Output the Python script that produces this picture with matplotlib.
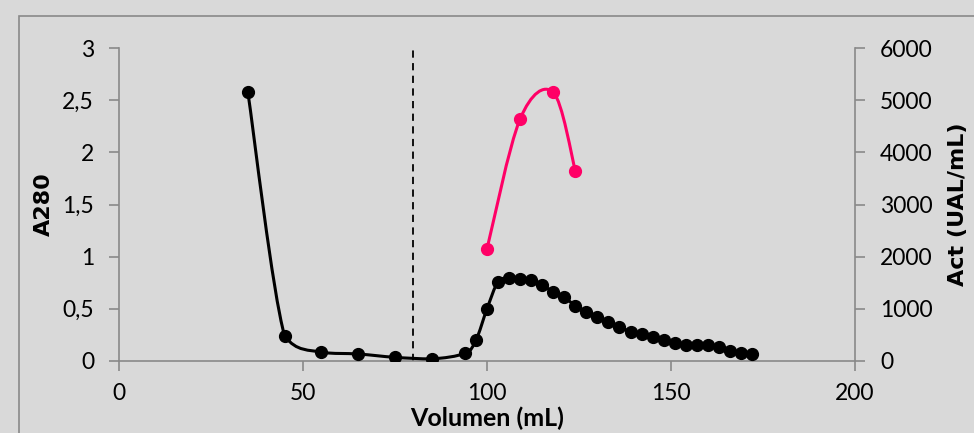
import numpy as np
import matplotlib.pyplot as plt
from matplotlib.path import Path
from matplotlib.patches import PathPatch, Rectangle
from matplotlib.ticker import FuncFormatter

# A280 elution profile
vol_a280 = [35, 45, 55, 65, 75, 85, 94, 97, 100, 103, 106, 109, 112, 115, 118,
            121, 124, 127, 130, 133, 136, 139, 142, 145, 148, 151, 154, 157,
            160, 163, 166, 169, 172]
a280 = [2.58, 0.24, 0.083, 0.067, 0.035, 0.02, 0.074, 0.20, 0.50, 0.76, 0.80,
        0.79, 0.78, 0.73, 0.66, 0.61, 0.53, 0.47, 0.42, 0.37, 0.33, 0.28, 0.26,
        0.23, 0.20, 0.17, 0.15, 0.15, 0.15, 0.13, 0.10, 0.08, 0.07]

# Activity (UAL/mL)
vol_act = [100, 109, 118, 124]
act = [2150, 4640, 5150, 3650]

BG = "#d9d9d9"
GRAY = "#898989"
PINK = "#ff0066"


def smooth_path(x, y, clamp=False):
    # Excel-style smoothed line: cubic Bezier through the points
    pts = np.column_stack([x, y]).astype(float)
    verts = [pts[0]]
    codes = [Path.MOVETO]
    n = len(pts)
    for i in range(n - 1):
        p0 = pts[i - 1] if i > 0 else pts[i]
        p1 = pts[i]
        p2 = pts[i + 1]
        p3 = pts[i + 2] if i + 2 < n else pts[i + 1]
        c1 = p1 + (p2 - p0) / 6.0
        c2 = p2 - (p3 - p1) / 6.0
        if clamp:
            lo, hi = min(p1[1], p2[1]), max(p1[1], p2[1])
            c1[1] = np.clip(c1[1], lo, hi)
            c2[1] = np.clip(c2[1], lo, hi)
        verts += [c1, c2, p2]
        codes += [Path.CURVE4] * 3
    return Path(verts, codes)


fig = plt.figure(figsize=(9.74, 4.33), dpi=100, facecolor=BG)
ax = fig.add_axes([0.1222, 0.1663, 0.7556, 0.7228])
ax.set_facecolor(BG)
ax2 = ax.twinx()

# outer chart frame
fig.patches.append(Rectangle((19 / 974, -0.1), 1.2, (433 - 16) / 433 + 0.1,
                             transform=fig.transFigure, fill=False,
                             edgecolor=GRAY, linewidth=1.2))

ax.add_patch(PathPatch(smooth_path(vol_a280, a280, clamp=True), fill=False,
                       edgecolor="black", linewidth=2.2, zorder=3))
ax.plot(vol_a280, a280, linestyle="none", marker="o", markersize=8.5,
        color="black", zorder=4)
ax.plot([80, 80], [0, 3], linestyle=(0, (4, 3)), color="black",
        linewidth=1.3, zorder=2)

ax2.add_patch(PathPatch(smooth_path(vol_act, act), fill=False,
                        edgecolor=PINK, linewidth=2.2, zorder=3))
ax2.plot(vol_act, act, linestyle="none", marker="o", markersize=8.5,
         color=PINK, zorder=4)

ax.set_xlim(0, 200)
ax.set_ylim(0, 3)
ax2.set_ylim(0, 6000)
ax.set_xticks([0, 50, 100, 150, 200])
ax.set_yticks([0, 0.5, 1, 1.5, 2, 2.5, 3])
ax2.set_yticks([0, 1000, 2000, 3000, 4000, 5000, 6000])
ax.yaxis.set_major_formatter(FuncFormatter(lambda v, p: f"{v:g}".replace(".", ",")))

for a in (ax, ax2):
    a.spines["top"].set_visible(False)
    for s in ("left", "right", "bottom"):
        a.spines[s].set_color(GRAY)
        a.spines[s].set_linewidth(1.2)
    a.tick_params(colors=GRAY, labelcolor="black", labelsize=16.5,
                  length=7, width=1.2, direction="out", pad=11)
    for lab in a.get_xticklabels() + a.get_yticklabels():
        lab.set_fontfamily("Lato")
ax.tick_params(axis="x", pad=9)
ax.spines["right"].set_visible(False)
ax2.spines["left"].set_visible(False)
ax2.spines["bottom"].set_visible(False)

ax.set_xlabel("Volumen (mL)", fontsize=18, fontweight="bold",
              fontfamily="Lato", labelpad=2)
ax.set_ylabel("A280", fontsize=16, fontweight="bold", labelpad=6)
ax2.set_ylabel("Act (UAL/mL)", fontsize=16, fontweight="bold", labelpad=11)

fig.savefig("out.png", dpi=100, facecolor=BG)
